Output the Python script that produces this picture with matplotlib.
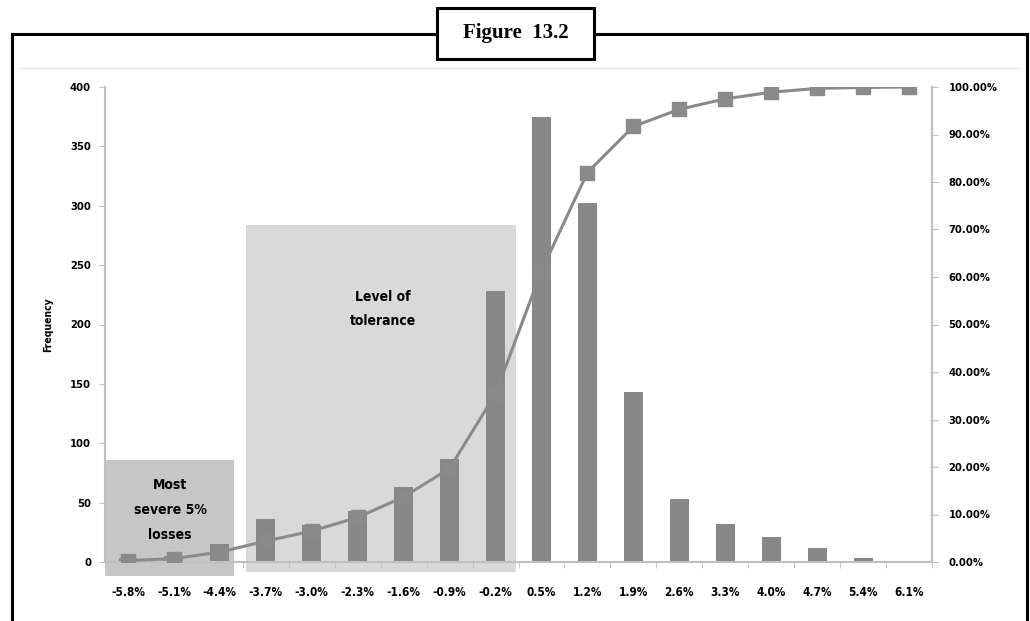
import numpy as np
import matplotlib
matplotlib.use('Agg')
import matplotlib.pyplot as plt
from matplotlib.patches import Rectangle
from matplotlib.lines import Line2D
from matplotlib.ticker import FuncFormatter

#====================================================
# Data
#====================================================

returns = [-5.8, -5.1, -4.4, -3.7, -3.0, -2.3, -1.6, -0.9, -0.2,
           0.5, 1.2, 1.9, 2.6, 3.3, 4.0, 4.7, 5.4, 6.1]
tick_labels = ['-5.8%', '-5.1%', '-4.4%', '-3.7%', '-3.0%', '-2.3%', '-1.6%',
               '-0.9%', '-0.2%', '0.5%', '1.2%', '1.9%', '2.6%', '3.3%',
               '4.0%', '4.7%', '5.4%', '6.1%']
frequency = [3, 5, 15, 36, 31, 43, 63, 87, 228,
             375, 302, 143, 53, 32, 21, 12, 3, 1]
cumulative = [0.3, 0.7, 2.1, 4.4, 6.5, 9.4, 13.7, 19.7, 35.4,
              61.3, 82.0, 91.7, 95.3, 97.5, 98.9, 99.7, 99.9, 100.0]

# shaded zones (category units, frequency units)
severe_zone = (-0.5, 2.3, -12, 86)
tolerance_zone = (2.56, 8.44, -8, 284)

#====================================================
# Style
#====================================================

plt.rcParams.update({'font.family': ['DejaVu Sans'],
                     'font.stretch': 'condensed',
                     'font.weight': 'bold',
                     'axes.labelweight': 'bold'})

bar_col = '#888888'
line_col = '#8a8a8a'
spine_col = '#c0c0c0'

fig = plt.figure(figsize=(10.3, 6.21), dpi=100)
ax = fig.add_axes([105 / 1030, 1 - 562 / 621, 827 / 1030, 475 / 621])

x = np.arange(len(returns))

# zones
for (x0, x1, y0, y1), col in [(severe_zone, '#c6c6c6'),
                              (tolerance_zone, '#d9d9d9')]:
    ax.add_patch(Rectangle((x0, y0), x1 - x0, y1 - y0, facecolor=col,
                           edgecolor='none', zorder=0, clip_on=False))

ax.bar(x, frequency, width=0.41, color=bar_col, zorder=2)

ax.set_xlim(-0.5, len(returns) - 0.5)
ax.set_ylim(0, 400)
ax.set_yticks(np.arange(0, 401, 50))
ax.set_xticks(x)
ax.set_xticklabels(tick_labels)
ax.set_xticks(np.arange(-0.5, len(returns), 1.0), minor=True)
ax.tick_params(axis='x', which='major', length=0, pad=17, labelsize=8.5)
ax.tick_params(axis='x', which='minor', length=4, color=spine_col,
               direction='out')
ax.tick_params(axis='y', length=4, color=spine_col, pad=6, labelsize=8)
ax.set_ylabel('Frequency', fontsize=7.5, labelpad=12)

ax.spines['top'].set_visible(False)
for s in ['left', 'bottom', 'right']:
    ax.spines[s].set_color(spine_col)
    ax.spines[s].set_linewidth(1.5)

# cumulative line on the right axis
ax2 = ax.twinx()
ax2.plot(x, np.array(cumulative) / 100, color=line_col, lw=2.2,
         marker='s', markersize=9.5, zorder=3)
ax2.set_ylim(0, 1)
ax2.set_yticks(np.linspace(0, 1, 11))
ax2.yaxis.set_major_formatter(FuncFormatter(lambda v, p: '%.2f%%' % (v * 100)))
ax2.tick_params(axis='y', length=4, color=spine_col, pad=8, labelsize=8)
for s in ['top', 'left', 'bottom']:
    ax2.spines[s].set_visible(False)
ax2.spines['right'].set_color(spine_col)
ax2.spines['right'].set_linewidth(1.5)

# zone labels
ax.text(0.92, 44, 'Most\nsevere 5%\nlosses', ha='center', va='center',
        fontsize=10, linespacing=2.0, zorder=5)
ax.text(5.55, 213, 'Level of\ntolerance', ha='center', va='center',
        fontsize=10, linespacing=1.9, zorder=5)

#====================================================
# Frame and title box
#====================================================

W, H = 1030.0, 621.0
def fx(px):
    return px / W
def fy(py):
    return 1 - py / H

frame_kw = dict(color='black', lw=2.2, transform=fig.transFigure)
fig.add_artist(Line2D([fx(12), fx(437)], [fy(34), fy(34)], **frame_kw))
fig.add_artist(Line2D([fx(594), fx(1027)], [fy(34), fy(34)], **frame_kw))
fig.add_artist(Line2D([fx(12), fx(12)], [fy(34), fy(621)], **frame_kw))
fig.add_artist(Line2D([fx(1027), fx(1027)], [fy(34), fy(621)], **frame_kw))
# faint chart-area border
fig.add_artist(Line2D([fx(20), fx(1019)], [fy(68), fy(68)], color='#e6e6e6',
                      lw=1, transform=fig.transFigure))

fig.add_artist(Rectangle((fx(437), fy(59)), fx(594) - fx(437), fy(8) - fy(59),
                         facecolor='white', edgecolor='black', lw=2.2,
                         transform=fig.transFigure))
fig.text(fx(515.5), fy(33), 'Figure  13.2', ha='center', va='center',
         fontsize=15, fontweight='bold', stretch='normal',
         family=['Liberation Serif', 'DejaVu Serif'])

plt.savefig('out.png', dpi=100)
